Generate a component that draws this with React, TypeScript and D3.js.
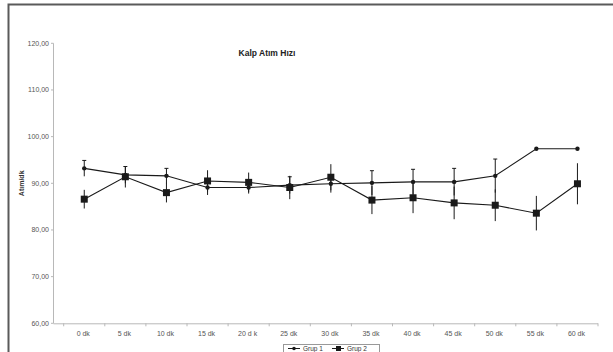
import * as d3 from "d3";

const categories = ["0 dk", "5 dk", "10 dk", "15 dk", "20 d k", "25 dk", "30 dk", "35 dk", "40 dk", "45 dk", "50 dk", "55 dk", "60 dk"];
const seriesA = [93.2, 91.8, 91.6, 89.1, 89.1, 89.6, 89.9, 90.1, 90.3, 90.3, 91.6, 97.4, 97.4];
const errA = [1.7, 1.8, 1.6, 1.6, 1.3, 1.8, 1.9, 2.6, 2.7, 2.9, 3.6, 0, 0];
const seriesB = [86.6, 91.4, 88.0, 90.5, 90.2, 89.1, 91.3, 86.4, 86.9, 85.8, 85.3, 83.6, 89.9];
const errB = [2.0, 2.3, 2.1, 2.3, 2.1, 2.5, 2.8, 3.0, 3.3, 3.5, 3.4, 3.7, 4.4];
const yTicks = [60, 70, 80, 90, 100, 110, 120];
const legendNames = ["Grup 1", "Grup 2"];

export default function App() {
    const width = 613;
    const height = 352;
    const font = "'Liberation Sans', Arial, sans-serif";

    // scales
    const x = d3.scaleBand<string>().domain(categories).range([63.7, 598]).padding(0);
    const y = d3.scaleLinear().domain([60, 120]).range([323.3, 43.3]);
    const cx = (c: string) => (x(c) as number) + x.bandwidth() / 2;

    const line = d3.line<number>()
        .x((d, i) => cx(categories[i]))
        .y(d => y(d));

    const fmt = (v: number) => v.toFixed(2).replace(".", ",");
    const axisColor = "#b8b8b8";
    const ink = "#1a1a1a";

    return (
        <svg width={width} height={height} style={{ position: "absolute", left: 0, top: 0, background: "#fff" }}>
            {/* chart frame */}
            <rect x={8.5} y={4.5} width={width + 10} height={height + 10} fill="#fff" stroke="#5a5a5a" strokeWidth={2} />

            {/* title */}
            <text x={267} y={56} textAnchor="middle" fontFamily={font} fontWeight="bold" fontSize={8.5} fill="#222">Kalp Atım Hızı</text>

            {/* y axis */}
            <line x1={53.5} x2={53.5} y1={y(120)} y2={y(60)} stroke={axisColor} strokeWidth={1} />
            {yTicks.map(t => (
                <g key={t}>
                    <line x1={51} x2={53.5} y1={y(t)} y2={y(t)} stroke={axisColor} />
                    <text x={49} y={y(t) + 2.5} textAnchor="end" fontFamily={font} fontSize={7} fill="#555">{fmt(t)}</text>
                </g>
            ))}
            <text transform={`translate(24, ${y(90)}) rotate(-90)`} textAnchor="middle" fontFamily={font} fontWeight="bold" fontSize={7} fill="#333">Atım/dk</text>

            {/* x axis */}
            <line x1={53.5} x2={598} y1={y(60) + 0.5} y2={y(60) + 0.5} stroke={axisColor} />
            {categories.map((c, i) => (
                <g key={c}>
                    <line x1={(x(c) as number) + x.bandwidth()} x2={(x(c) as number) + x.bandwidth()} y1={y(60)} y2={y(60) + 3} stroke={axisColor} />
                    {i === 0 && <line x1={x(c) as number} x2={x(c) as number} y1={y(60)} y2={y(60) + 3} stroke={axisColor} />}
                    <text x={cx(c) - 1} y={336} textAnchor="middle" fontFamily={font} fontSize={7} fill="#555">{c}</text>
                </g>
            ))}

            {/* error bars B (no caps) */}
            {seriesB.map((v, i) => (
                <line key={"eb" + i} x1={cx(categories[i])} x2={cx(categories[i])} y1={y(v + errB[i])} y2={y(v - errB[i])} stroke={ink} strokeWidth={1} />
            ))}
            {/* error bars A (cap on top) */}
            {seriesA.map((v, i) => errA[i] > 0 && (
                <g key={"ea" + i}>
                    <line x1={cx(categories[i])} x2={cx(categories[i])} y1={y(v + errA[i])} y2={y(v - errA[i])} stroke={ink} strokeWidth={1} />
                    <line x1={cx(categories[i]) - 2} x2={cx(categories[i]) + 2} y1={y(v + errA[i])} y2={y(v + errA[i])} stroke={ink} strokeWidth={1} />
                </g>
            ))}

            {/* lines */}
            <path d={line(seriesA) ?? ""} fill="none" stroke={ink} strokeWidth={1.1} />
            <path d={line(seriesB) ?? ""} fill="none" stroke={ink} strokeWidth={1.1} />

            {/* markers */}
            {seriesA.map((v, i) => (
                <circle key={"ma" + i} cx={cx(categories[i])} cy={y(v)} r={2.2} fill={ink} />
            ))}
            {seriesB.map((v, i) => (
                <rect key={"mb" + i} x={cx(categories[i]) - 3.5} y={y(v) - 3.5} width={7} height={7} fill={ink} />
            ))}

            {/* legend */}
            <g>
                <rect x={283.5} y={344.5} width={96} height={14} fill="#fff" stroke="#999" />
                <line x1={288} x2={300} y1={348.5} y2={348.5} stroke={ink} />
                <circle cx={294} cy={348.5} r={1.8} fill={ink} />
                <text x={303} y={350.5} fontFamily={font} fontSize={6.5} fill="#333">{legendNames[0]}</text>
                <line x1={332} x2={344} y1={348.5} y2={348.5} stroke={ink} />
                <rect x={336} y={346} width={5} height={5} fill={ink} />
                <text x={347} y={350.5} fontFamily={font} fontSize={6.5} fill="#333">{legendNames[1]}</text>
            </g>
        </svg>
    );
}
